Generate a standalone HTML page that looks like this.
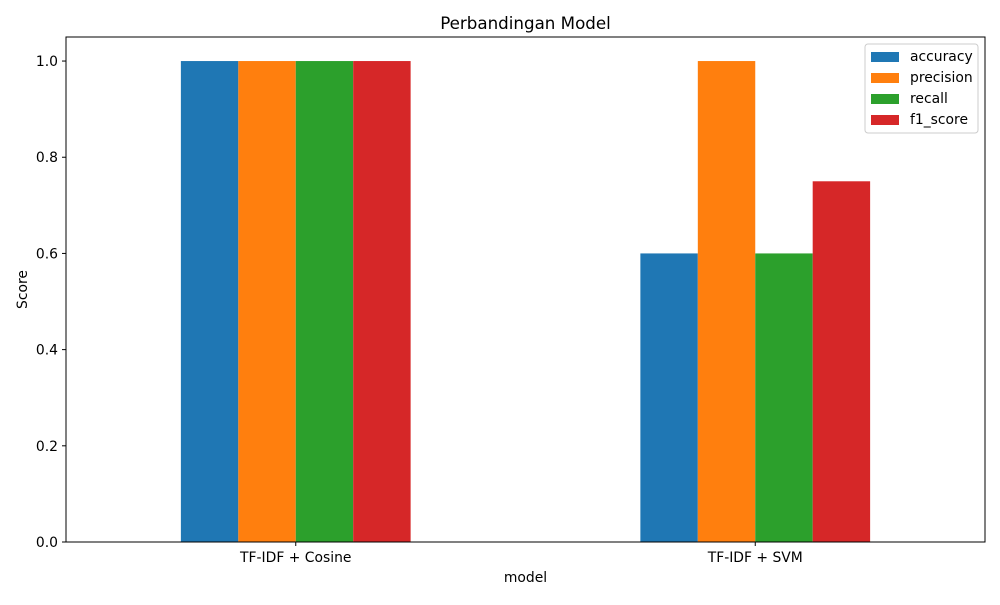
<!DOCTYPE html>
<html><head><meta charset="utf-8"><style>body{margin:0;background:#fff}svg{font-family:"DejaVu Sans","Liberation Sans",sans-serif}</style></head>
<body>
<svg id="chart" width="1000" height="600">
<rect x="0" y="0" width="1000" height="600" fill="#fff"/>
<text x="525.5" y="29" font-size="16.7" text-anchor="middle">Perbandingan Model</text>
<g id="bars"></g>
<g id="axes"></g>
</svg>
<script>
const categories = ["TF-IDF + Cosine", "TF-IDF + SVM"];
const seriesNames = ["accuracy", "precision", "recall", "f1_score"];
const accuracy = [1.0, 0.6];
const precision = [1.0, 1.0];
const recall = [1.0, 0.6];
const f1_score = [1.0, 0.75];
const yTicks = [0.0, 0.2, 0.4, 0.6, 0.8, 1.0];
const colors = ["#1f77b4", "#ff7f0e", "#2ca02c", "#d62728"];
const series = [accuracy, precision, recall, f1_score];

const L=66,R=985,T=37,B=542, yMax=1.05;
const NS="http://www.w3.org/2000/svg";
const xs = v => L + (v + 0.5) / 2 * (R - L);
const ys = v => B - v / yMax * (B - T);
function mk(tag, attrs, parent){const e=document.createElementNS(NS,tag);for(const k in attrs)e.setAttribute(k,attrs[k]);parent.appendChild(e);return e;}
const bars=document.getElementById('bars'), axes=document.getElementById('axes');
const bw=0.125;
series.forEach((s,si)=>{
  s.forEach((v,ci)=>{
    const x0=xs(ci - 0.25 + si*bw), x1=xs(ci - 0.25 + (si+1)*bw);
    const r=mk('rect',{x:x0,y:ys(v),width:x1-x0,height:B-ys(v),fill:colors[si]},bars);
    
    
  });
});
const frame=mk('rect',{x:L,y:T,width:R-L,height:B-T,fill:'none',stroke:'#000','stroke-width':1},axes);


const FS=13.9;
yTicks.forEach(t=>{
  const y=ys(t);
  mk('line',{x1:L-4,x2:L,y1:y,y2:y,stroke:'#000'},axes);
  const tx=mk('text',{x:L-8,y:y+5,'font-size':FS,'text-anchor':'end'},axes);
  tx.textContent=t.toFixed(1);
  
  
});
categories.forEach((c,i)=>{
  const x=xs(i);
  mk('line',{x1:x,x2:x,y1:B,y2:B+4,stroke:'#000'},axes);
  const tx=mk('text',{x:x,y:B+20,'font-size':FS,'text-anchor':'middle'},axes);
  tx.textContent=c;
  
  
});
const xt=mk('text',{x:(L+R)/2,y:582,'font-size':FS,'text-anchor':'middle'},axes);
xt.textContent='model';


const yt=mk('text',{x:27,y:(T+B)/2,'font-size':FS,'text-anchor':'middle',transform:`rotate(-90 27 ${(T+B)/2})`},axes);
yt.textContent='Score';


const lg=mk('g',{},axes);


mk('rect',{x:865,y:44,width:113,height:89,rx:3,fill:'#fff',stroke:'#ccc'},lg);
seriesNames.forEach((n,i)=>{
  const y=56+i*21;
  mk('rect',{x:871,y:y-4,width:28,height:10,fill:colors[i]},lg);
  const tx=mk('text',{x:910,y:y+5,'font-size':FS},lg);
  tx.textContent=n;
  
  
});
</script>
</body></html>
